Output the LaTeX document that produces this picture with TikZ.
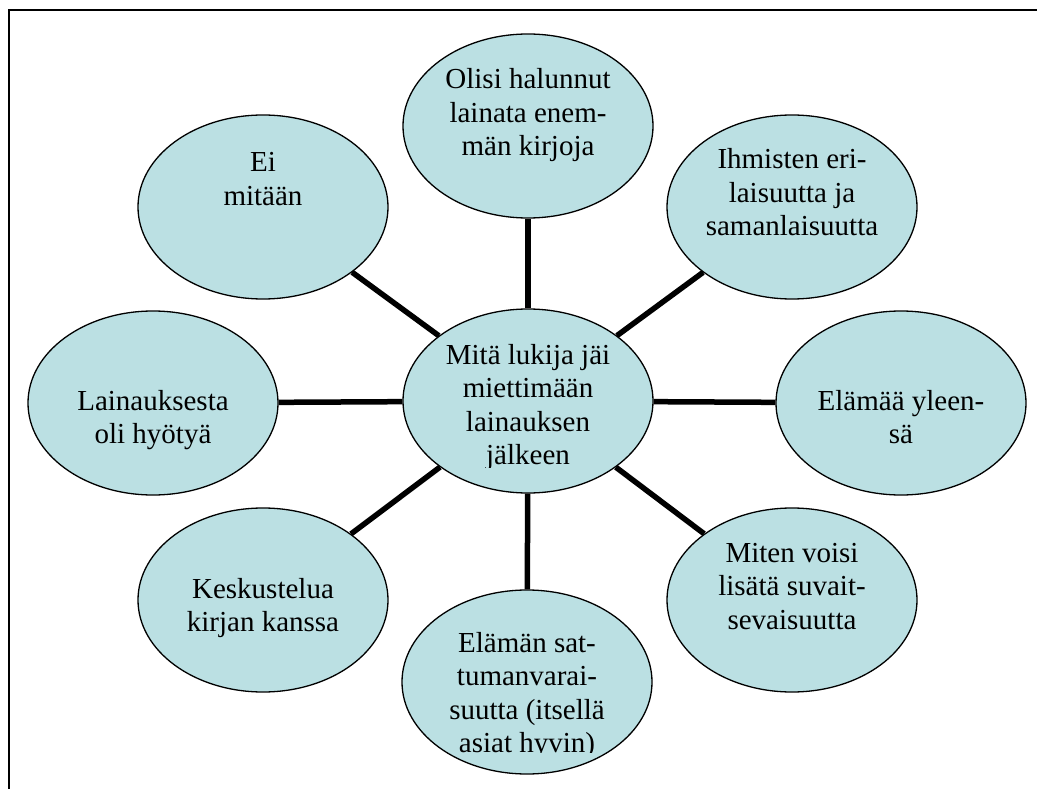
\documentclass[tikz,border=0pt]{standalone}
\usepackage{fontspec}
\setmainfont{Liberation Serif}
\usetikzlibrary{shapes.geometric}
\definecolor{bubblefill}{RGB}{187,224,227}
\newcommand{\mlines}[1]{\begin{tabular}[t]{@{}c@{}}#1\end{tabular}}
\tikzset{
  bubble/.style={ellipse, draw=black, line width=1.3pt, fill=bubblefill,
    minimum width=250pt, minimum height=184pt, inner sep=0pt},
  btext/.style={anchor=base, inner sep=0pt, font=\fontsize{29}{33.5}\selectfont},
  spoke/.style={line width=5.5pt},
  frame/.style={line width=2pt}
}
\begin{document}
\begin{tikzpicture}[x=1pt, y=-1pt]
\useasboundingbox (0,0) rectangle (1037,789);
\draw[frame] (9,789) -- (9,10) -- (1037,10);

\node[bubble] (c)  at (528,401) {};
\node[bubble] (n)  at (528,126) {};
\node[bubble] (ne) at (792,207) {};
\node[bubble] (e)  at (901,403) {};
\node[bubble] (se) at (792,600) {};
\node[bubble] (s)  at (527,682) {};
\node[bubble] (sw) at (263,600) {};
\node[bubble] (w)  at (153,403) {};
\node[bubble] (nw) at (263,207) {};

\foreach \o in {n,ne,e,se,s,sw,w,nw} \draw[spoke] (c) -- (\o);

\begin{scope}
  \clip (400,300) rectangle (656,467.5);
  \node[btext] (tc) at (528,364) {\mlines{Mitä lukija jäi\\miettimään\\lainauksen\\jälkeen}};
\end{scope}
\node[btext] (tn)  at (528,89)  {\mlines{Olisi halunnut\\lainata enem-\\män kirjoja}};
\node[btext] (tne) at (792,169) {\mlines{Ihmisten eri-\\laisuutta ja\\samanlaisuutta}};
\node[btext] (te)  at (901,410) {\mlines{Elämää yleen-\\sä}};
\node[btext] (tse) at (792,562) {\mlines{Miten voisi\\lisätä suvait-\\sevaisuutta}};
\begin{scope}
  \clip (400,590) rectangle (656,752.5);
  \node[btext] (ts) at (527,652) {\mlines{Elämän sat-\\tumanvarai-\\suutta (itsellä\\asiat hyvin)}};
\end{scope}
\node[btext] (tsw) at (263,598) {\mlines{Keskustelua\\kirjan kanssa}};
\node[btext] (tw)  at (153,410) {\mlines{Lainauksesta\\oli hyötyä}};
\node[btext] (tnw) at (263,172) {\mlines{Ei\\mitään}};
\end{tikzpicture}
\end{document}
